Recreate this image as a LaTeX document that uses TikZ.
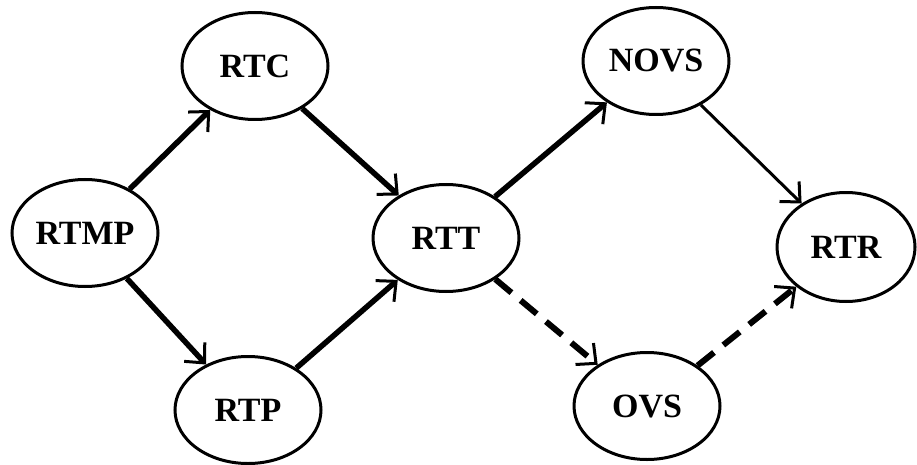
\documentclass[tikz,border=0pt]{standalone}
\usepackage{fontspec}
\setmainfont{Liberation Serif}
\usetikzlibrary{shapes.geometric,arrows.meta}

\begin{document}
\begin{tikzpicture}[x=1pt, y=-1pt,
	every node/.style = {shape=ellipse, draw, line width=3pt,
		inner sep=0pt, minimum width=146pt, minimum height=107pt,
		font=\fontsize{34}{40}\selectfont\bfseries},
	link/.style = {line width=5.5pt,
		-{Straight Barb[length=15pt, width=28pt, line width=3pt]}},
	thinlink/.style = {line width=3pt,
		-{Straight Barb[length=15pt, width=28pt, line width=3pt]}},
	weaklink/.style = {link, line width=6pt, dash pattern=on 21pt off 12pt}]
	\useasboundingbox (0,0) rectangle (917,465);
	\node (rtmp) at (85,233) {RTMP};
	\node (rtc) at (255,66) {RTC};
	\node (rtp) at (248,410) {RTP};
	\node (rtt) at (446,238) {RTT};
	\node (novs) at (656,61) {NOVS};
	\node (ovs) at (647,406) {OVS};
	\node[minimum width=138pt, minimum height=109pt] (rtr) at (846,247) {RTR};
	
	\draw[link] (rtmp) -- (rtc);
	\draw[link] (rtmp) -- (rtp);
	\draw[link] (rtc) -- (rtt);
	\draw[link] (rtp) -- (rtt);
	\draw[link] (rtt) -- (novs);
	\draw[weaklink] (rtt) -- (ovs);
	\draw[thinlink] (novs) -- (rtr);
	\draw[weaklink] (ovs) -- (rtr);
\end{tikzpicture}
\end{document}
